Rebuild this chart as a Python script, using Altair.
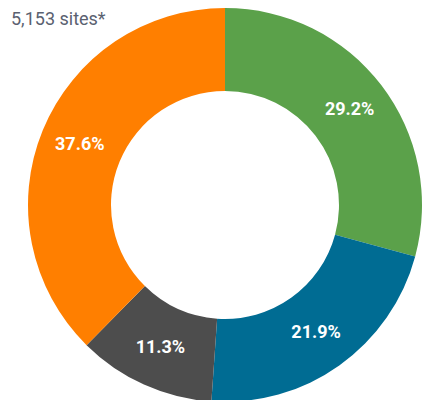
import altair as alt
import pandas as pd

categories = ["A", "B", "C", "D"]
values = [29.2, 21.9, 11.3, 37.6]
labels = ["29.2%", "21.9%", "11.3%", "37.6%"]
colors = ["#5BA14A", "#006C93", "#4D4D4D", "#FF7F00"]
title_text = ["5,153 sites*"]

df = pd.DataFrame({"cat": categories, "val": values, "label": labels, "ord": list(range(len(categories)))})

base = alt.Chart(df).encode(
    theta=alt.Theta("val:Q", stack=True),
    order=alt.Order("ord:Q"),
)

arcs = base.mark_arc(radius2=114, radius=197).encode(
    color=alt.Color("cat:N", scale=alt.Scale(domain=categories, range=colors), legend=None),
)

text = base.mark_text(radius=157, font="Roboto", fontSize=18, fontWeight="bold", color="white").encode(
    text="label:N",
)

title = alt.Chart(pd.DataFrame({"t": title_text})).mark_text(
    align="left", baseline="alphabetic", font="Roboto", fontSize=18, color="#5a6170"
).encode(x=alt.value(-17), y=alt.value(17), text="t:N")

chart = alt.layer(arcs, text, title).properties(
    width=394, height=394,
    padding={"left": 20, "top": 0, "right": 0, "bottom": 0},
    autosize=alt.AutoSizeParams(type="none"),
).configure_view(stroke=None)

chart.save("out.html", embed_options={"renderer": "svg", "actions": False})
